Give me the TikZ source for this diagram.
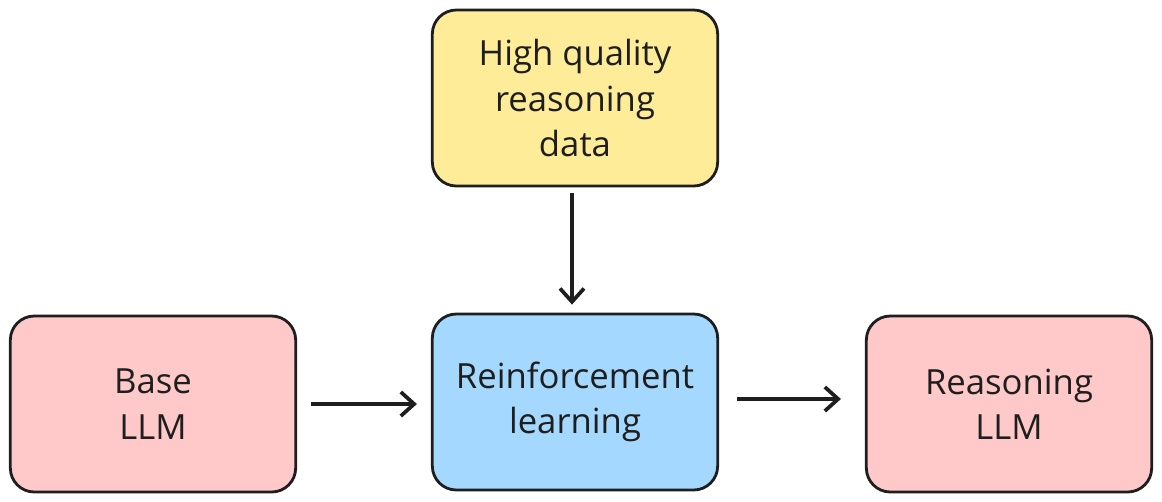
\documentclass[tikz,border=0pt]{standalone}
\usepackage{fontspec}
\setmainfont{Open Sans}
\usetikzlibrary{arrows.meta,calc}
\definecolor{boxyellow}{HTML}{FFEC99}
\definecolor{boxpink}{HTML}{FFC9C9}
\definecolor{boxblue}{HTML}{A5D8FF}
\definecolor{ink}{HTML}{1E1E1E}
\tikzset{
  card/.style={draw=ink, line width=2.1pt, rounded corners=18pt, minimum width=214pt, minimum height=132pt, align=center, inner sep=0pt, font=\fontsize{26}{34}\selectfont, text=ink},
  flow/.style={draw=ink, line width=2.8pt, -{Straight Barb[length=10pt,width=18pt]}}
}
\begin{document}
\begin{tikzpicture}[x=0.75pt,y=-0.75pt]
\useasboundingbox (0,0) rectangle (1162,501);
\node[card, fill=boxyellow] (data) at (575,98) {High quality\\reasoning\\data};
\node[card, fill=boxpink] (base) at (153,404) {Base\\LLM};
\node[card, fill=boxblue] (rl) at (575,402) {Reinforcement\\learning};
\node[card, fill=boxpink] (out) at (1009,404) {Reasoning\\LLM};
\draw[flow] ($(data.south)+(-3,6)$) -- ($(rl.north)+(-3,-8)$);
\draw[flow] ($(base.east)+(14,0)$) -- ($(rl.west |- base.east)+(-14,0)$);
\draw[flow] ($(rl.east)+(18,-3)$) -- ($(out.west |- rl.east)+(-24,-3)$);
\end{tikzpicture}
\end{document}
